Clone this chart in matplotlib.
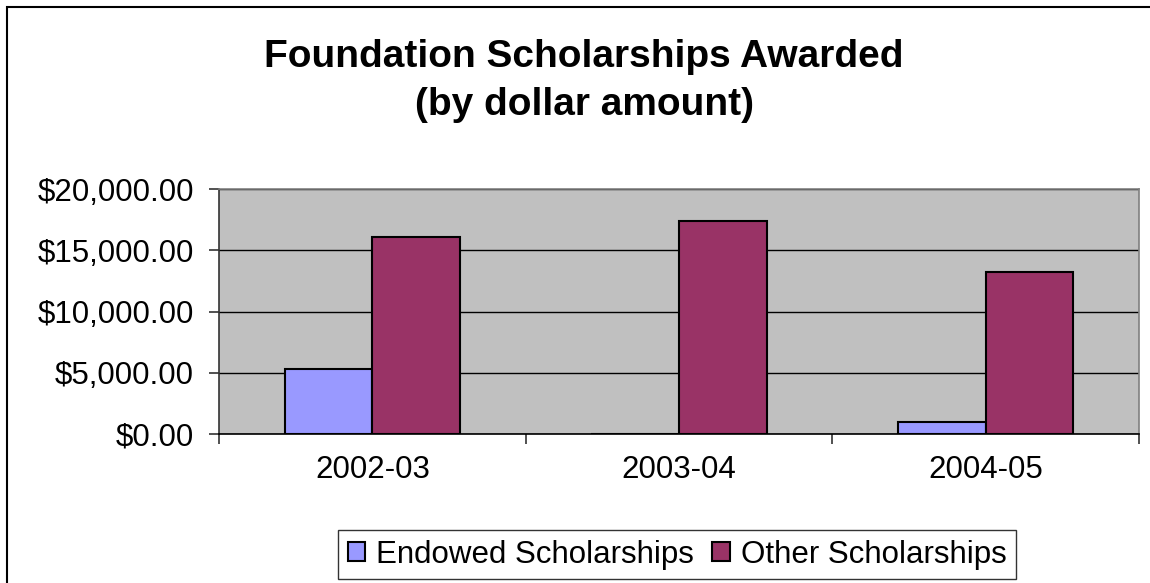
import matplotlib.pyplot as plt
from matplotlib.patches import Rectangle
from matplotlib.ticker import FuncFormatter, FixedLocator
import numpy as np

plt.rcParams['font.family'] = ['Liberation Sans', 'DejaVu Sans']

years = ["2002-03", "2003-04", "2004-05"]
endowed = [5300, 0, 950]
other = [16100, 17400, 13200]
series_names = ["Endowed Scholarships", "Other Scholarships"]
colors = ["#9999FF", "#993366"]

fig = plt.figure(figsize=(11.5, 5.83), dpi=100)
ax = fig.add_axes([219 / 1150, 1 - 434 / 583, 920 / 1150, (434 - 189.3) / 583])

x = np.arange(len(years))
w = 1 / 3.5
ax.set_axisbelow(True)
ax.bar(x - w / 2, endowed, w, color=colors[0], edgecolor="black", linewidth=1.5,
       label=series_names[0], zorder=3)
ax.bar(x + w / 2, other, w, color=colors[1], edgecolor="black", linewidth=1.5,
       label=series_names[1], zorder=3)

ax.set_facecolor("#C0C0C0")
ax.set_xlim(-0.5, 2.5)
ax.set_ylim(0, 20000)
ax.set_yticks(np.arange(0, 20001, 5000))
ax.yaxis.set_major_formatter(FuncFormatter(lambda v, p: f"${v:,.2f}"))
ax.grid(axis="y", color="black", linewidth=1)

ax.set_xticks(x)
ax.set_xticklabels(years)
# category separators as outward ticks
ax.xaxis.set_minor_locator(FixedLocator([-0.5, 0.5, 1.5, 2.5]))
ax.tick_params(axis="x", which="major", length=0, pad=15, labelsize=22.5)
ax.tick_params(axis="x", which="minor", length=7, width=1.2, direction="out",
               color="#333333")
ax.tick_params(axis="y", length=7, width=1.2, direction="out", pad=11,
               labelsize=22.5, color="#333333")

ax.spines["top"].set_color("#808080")
ax.spines["right"].set_color("#808080")
ax.spines["left"].set_color("#333333")
ax.spines["bottom"].set_color("black")
for s in ax.spines.values():
    s.set_linewidth(1.2)

fig.text(584 / 1150, 1 - 57 / 583, "Foundation Scholarships Awarded",
         ha="center", va="center", fontsize=28, fontweight="bold")
fig.text(585 / 1150, 1 - 105 / 583, "(by dollar amount)",
         ha="center", va="center", fontsize=28, fontweight="bold")

fig.legend(loc="center", bbox_to_anchor=(677 / 1150, 1 - 554.5 / 583), ncol=2,
           fontsize=22.5, frameon=True, fancybox=False, edgecolor="#333333",
           handlelength=0.55, handleheight=0.55, handletextpad=0.35,
           columnspacing=0.6, borderpad=0.3, framealpha=1)

# outer chart border
fig.patches.append(Rectangle((7 / 1150, -0.05), 1.1, 1 - 7 / 583 + 0.05,
                             transform=fig.transFigure, fill=False,
                             edgecolor="black", linewidth=1.5))

fig.savefig("out.png", dpi=100)
